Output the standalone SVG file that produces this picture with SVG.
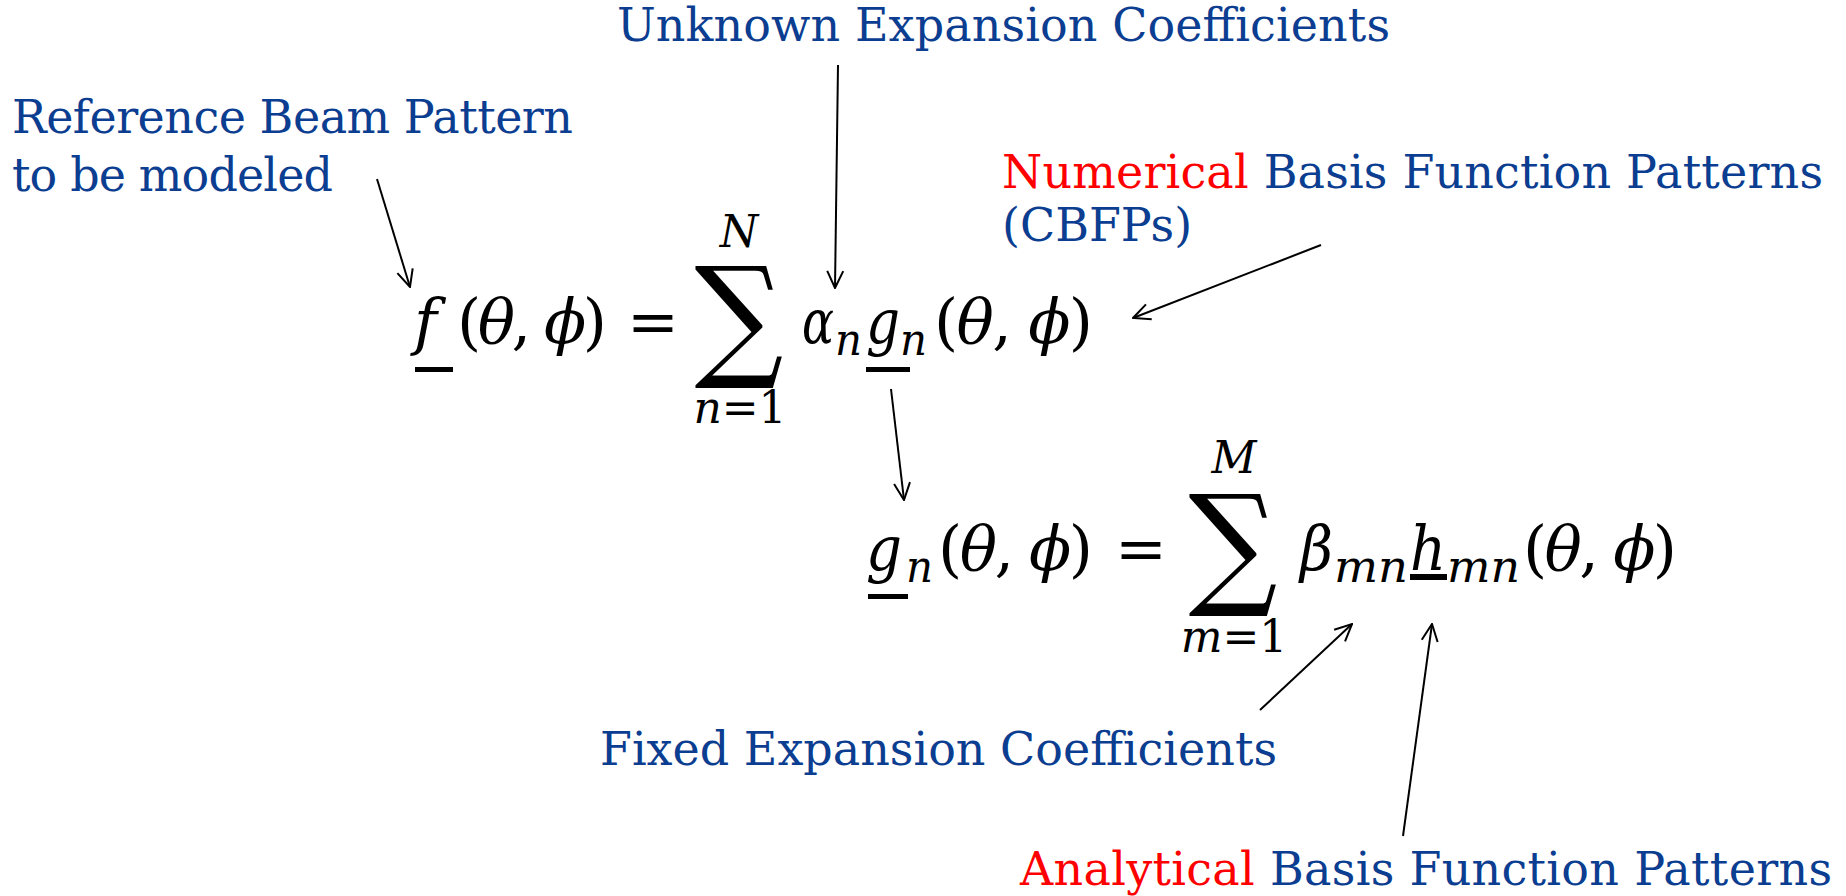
<svg xmlns="http://www.w3.org/2000/svg" width="1846" height="896" viewBox="0 0 1846 896">
<defs>
<style>
.lbl{font-family:"DejaVu Serif","Liberation Serif",serif;font-size:46px;fill:#0B3D91}
.red{fill:#FF0000}
.m{font-family:"DejaVu Serif","Liberation Serif",serif;font-size:62px;fill:#000;font-style:italic}
.u{font-style:normal}
.sub{font-family:"DejaVu Serif","Liberation Serif",serif;font-size:44px;font-style:italic;fill:#000}
.sig{font-family:"DejaVu Serif","DejaVu Sans",serif;font-size:134px;fill:#000}
.con{stroke:#000;stroke-width:2;fill:none}
</style>
<marker id="ah" viewBox="0 0 20 20" refX="19" refY="10" markerWidth="20" markerHeight="20" markerUnits="userSpaceOnUse" orient="auto">
<path d="M2,2 L19,10 L2,18" fill="none" stroke="#000" stroke-width="2"/>
</marker>
</defs>
<rect width="1846" height="896" fill="#fff"/>

<g id="label-reference">
<text class="lbl" x="12" y="133" textLength="561">Reference Beam Pattern</text>
<text class="lbl" x="12" y="191" textLength="321">to be modeled</text>
</g>
<g id="label-unknown">
<text class="lbl" x="617" y="41" textLength="773">Unknown Expansion Coefficients</text>
</g>
<g id="label-numerical">
<text class="lbl" x="1002" y="188" textLength="821"><tspan class="red">Numerical</tspan> Basis Function Patterns</text>
<text class="lbl" x="1002" y="241">(CBFPs)</text>
</g>
<g id="label-fixed">
<text class="lbl" x="600" y="765" textLength="677">Fixed Expansion Coefficients</text>
</g>
<g id="label-analytical">
<text class="lbl" x="1020" y="885" textLength="812"><tspan class="red">Analytical</tspan> Basis Function Patterns</text>
</g>

<g id="eq1">
<text class="m" x="414" y="343">f</text>
<rect x="415" y="367" width="38" height="5" fill="#000"/>
<text class="m" x="457" y="343" textLength="150"><tspan class="u">(</tspan>θ<tspan class="u">,</tspan> ϕ<tspan class="u">)</tspan></text>
<text class="m u" x="653" y="343" text-anchor="middle">=</text>
<text class="sig" transform="translate(739,362) scale(0.93,1)" x="0" y="0" text-anchor="middle">∑</text>
<text class="sub" x="739" y="247" text-anchor="middle">N</text>
<text class="sub" x="740" y="423" text-anchor="middle">n<tspan class="u">=1</tspan></text>
<text class="m" x="802" y="343" textLength="32" lengthAdjust="spacingAndGlyphs">α</text>
<text class="sub" x="835" y="355" textLength="27" lengthAdjust="spacingAndGlyphs">n</text>
<text class="m" x="866" y="343" textLength="34" lengthAdjust="spacingAndGlyphs">g</text>
<rect x="866" y="367" width="44" height="5" fill="#000"/>
<text class="sub" x="900" y="355" textLength="27" lengthAdjust="spacingAndGlyphs">n</text>
<text class="m" x="934" y="343" textLength="159"><tspan class="u">(</tspan>θ<tspan class="u">,</tspan> ϕ<tspan class="u">)</tspan></text>
</g>

<g id="eq2">
<text class="m" x="866" y="570" textLength="36" lengthAdjust="spacingAndGlyphs">g</text>
<rect x="868" y="594" width="40" height="5" fill="#000"/>
<text class="sub" x="906" y="582" textLength="27" lengthAdjust="spacingAndGlyphs">n</text>
<text class="m" x="938" y="570" textLength="155"><tspan class="u">(</tspan>θ<tspan class="u">,</tspan> ϕ<tspan class="u">)</tspan></text>
<text class="m u" x="1141" y="570" text-anchor="middle">=</text>
<text class="sig" transform="translate(1233,590) scale(0.93,1)" x="0" y="0" text-anchor="middle">∑</text>
<text class="sub" x="1234" y="473" text-anchor="middle">M</text>
<text class="sub" x="1234" y="652" text-anchor="middle">m<tspan class="u">=1</tspan></text>
<text class="m" x="1300" y="570" textLength="33" lengthAdjust="spacingAndGlyphs">β</text>
<text class="sub" x="1334" y="582" textLength="74" lengthAdjust="spacingAndGlyphs">mn</text>
<text class="m" x="1410" y="570" textLength="36" lengthAdjust="spacingAndGlyphs">h</text>
<rect x="1410" y="574" width="37" height="6" fill="#000"/>
<text class="sub" x="1447" y="582" textLength="73" lengthAdjust="spacingAndGlyphs">mn</text>
<text class="m" x="1523" y="570" textLength="154"><tspan class="u">(</tspan>θ<tspan class="u">,</tspan> ϕ<tspan class="u">)</tspan></text>
</g>

<g id="connectors">
<line class="con" x1="377" y1="179" x2="410" y2="287" marker-end="url(#ah)"/>
<line class="con" x1="838" y1="65" x2="835" y2="288" marker-end="url(#ah)"/>
<line class="con" x1="1321" y1="245" x2="1133" y2="318" marker-end="url(#ah)"/>
<line class="con" x1="891" y1="389" x2="904" y2="500" marker-end="url(#ah)"/>
<line class="con" x1="1260" y1="710" x2="1352" y2="624" marker-end="url(#ah)"/>
<line class="con" x1="1403" y1="836" x2="1432" y2="624" marker-end="url(#ah)"/>
</g>
</svg>
